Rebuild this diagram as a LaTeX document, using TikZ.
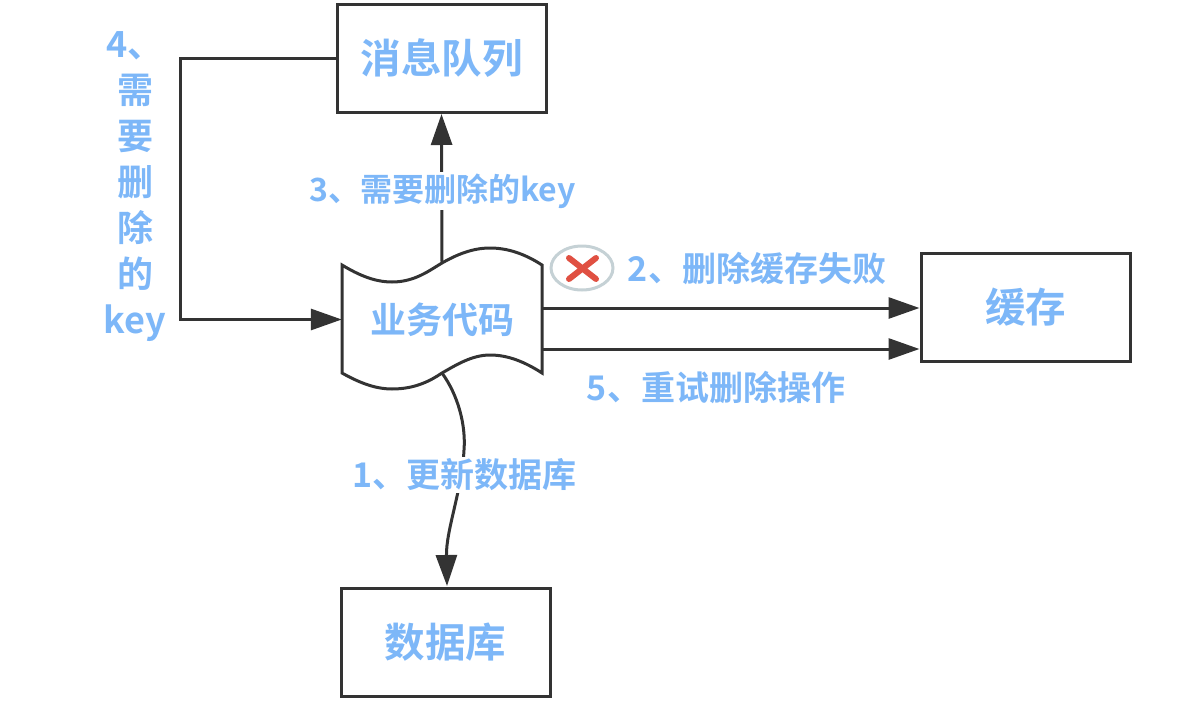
\documentclass[tikz,border=0pt]{standalone}
\usepackage{fontspec}
\usepackage{xcolor}
\usetikzlibrary{arrows.meta, shapes.geometric}
\setmainfont{Noto Sans CJK SC Bold}
\definecolor{lb}{RGB}{125, 183, 248}
\definecolor{dk}{RGB}{51, 51, 51}
\definecolor{rd}{RGB}{224, 80, 66}
\definecolor{rg}{RGB}{197, 209, 213}
\tikzset{
  box/.style = {draw = dk, line width = 3pt, fill = white, minimum width = 209pt, minimum height = 108pt, text = lb, font = \fontsize{40.5}{40.5}\selectfont},
  lbl/.style = {text = lb, font = \fontsize{34}{34}\selectfont, fill = white, inner sep = 2pt},
  conn/.style = {draw = dk, line width = 3pt, -{Triangle[length = 31pt, width = 21pt]}}
}

\begin{document}
\begin{tikzpicture}[x = 1pt, y = -1pt]
\useasboundingbox (0,0) rectangle (1186,712);
\node[box] (queue) at (441.5,58.5) {消息队列};
\node[box] (cache) at (1025.5,307) {缓存};
\node[box] (db) at (445.5,642.5) {数据库};
\draw[dk, line width = 3pt, fill = white] (342,265) .. controls (365,279) and (380,282) .. (392,282) .. controls (415,282) and (430,270) .. (442,263) .. controls (456,255) and (472,248) .. (490,248) .. controls (508,248) and (525,254) .. (542,265) -- (542,373) .. controls (525,362) and (508,355) .. (490,355) .. controls (472,355) and (456,365) .. (442,373) .. controls (430,381) and (415,389) .. (392,389) .. controls (380,389) and (365,386) .. (342,373) -- cycle;
\node[text = lb, font = \fontsize{36}{36}\selectfont, minimum width = 200pt, minimum height = 108pt] (code) at (442,319.5) {业务代码};
\coordinate (codetop) at (442,263);
\coordinate (codebot) at (442,373);
\coordinate (codea) at (543,308);
\coordinate (codeb) at (543,349);
\coordinate (cachea) at (cache.west |- codea);
\coordinate (cacheb) at (cache.west |- codeb);
\coordinate (turna) at (180,58.5);
\coordinate (turnb) at (turna |- code.west);
\draw[conn] (codetop) -- (queue.south);
\draw[conn] (codebot) .. controls (458,395) and (466,425) .. (464,450) .. controls (462,490) and (446,530) .. (447,586);
\draw[conn] (codea) -- (cachea);
\draw[conn] (codeb) -- (cacheb);
\draw[conn] (queue.west) -- (turna) -- (turnb) -- (code.west);
\node[lbl] (lbla) at (464.5,475) {1、更新数据库};
\node[lbl] (lblb) at (757,268) {2、删除缓存失败};
\node[lbl, font = \fontsize{32}{32}\selectfont] (lblc) at (442.5,191) {3、需要删除的key};
\node[lbl] (lbld) at (716,387) {5、重试删除操作};
\node[text = lb, font = \fontsize{36}{46}\selectfont, align = center, inner sep = 0pt] (lble) at (135,187) {4、\\需\\要\\删\\除\\的\\key};
\node[draw = rg, line width = 3pt, ellipse, fill = white, minimum width = 62pt, minimum height = 44pt, inner sep = 0pt] (fail) at (582,268) {};
\draw[rd, line width = 6pt, line cap = round] (569,258) -- (596,279) (596,258) -- (569,279);
\end{tikzpicture}
\end{document}
